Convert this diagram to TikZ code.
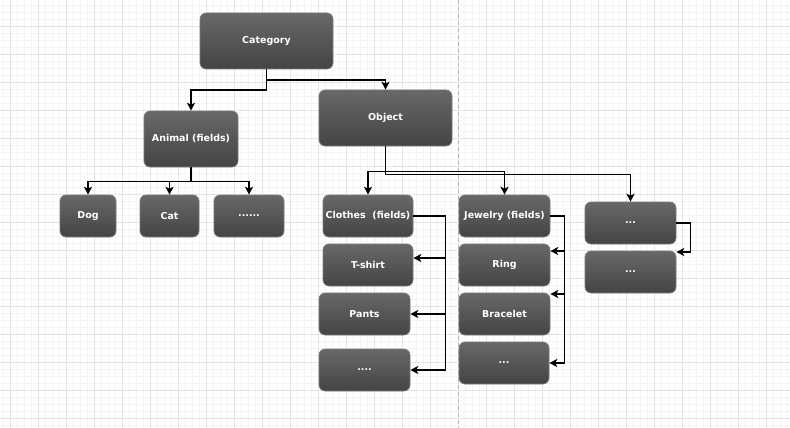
\documentclass[tikz,border=0pt]{standalone}
\usepackage{fontspec}
\setmainfont{DejaVu Sans}
\usetikzlibrary{arrows.meta}
\definecolor{gridmaj}{HTML}{E4E4E4}
\definecolor{gridmin}{HTML}{F4F4F4}
\definecolor{boxtop}{HTML}{686868}
\definecolor{boxbot}{HTML}{444444}
\definecolor{boxline}{HTML}{7C7C7C}
\tikzset{
  box/.style={rectangle, rounded corners=6pt, draw=boxline, line width=0.6pt,
    top color=boxtop, bottom color=boxbot, inner sep=0pt,
    text=white, font=\fontsize{9.5}{11}\selectfont\bfseries},
  arr/.style={line width=1.6pt, -{Stealth[length=8pt,width=8pt,inset=2pt]}},
  wire/.style={line width=1.6pt}
}
\begin{document}
\begin{tikzpicture}[x=1pt,y=-1pt]
\useasboundingbox (0,0) rectangle (790,428);
\fill[white] (0,0) rectangle (790,428);
% minor grid
\foreach \i in {0,...,113} {\draw[gridmin,line width=0.6pt] ({3+7*\i},0) -- ({3+7*\i},428);}
\foreach \i in {0,...,61} {\draw[gridmin,line width=0.6pt] (0,{5+7*\i}) -- (790,{5+7*\i});}
% major grid
\foreach \i in {0,...,28} {\draw[gridmaj,line width=0.9pt] ({10+28*\i},0) -- ({10+28*\i},428);}
\foreach \i in {0,...,15} {\draw[gridmaj,line width=0.9pt] (0,{-2+28*\i}) -- (790,{-2+28*\i});}
% dashed separator
\draw[gray!60,line width=0.7pt,dash pattern=on 4pt off 3pt] (458,0) -- (458,428);

% nodes
\node[box,minimum width=133pt,minimum height=56pt] (cat) at (266.5,41) {Category};
\node[box,minimum width=133pt,minimum height=56pt] (obj) at (385.5,118) {Object};
\node[box,minimum width=94pt,minimum height=56pt] (ani) at (191,139) {Animal (fields)};
\node[box,minimum width=56pt,minimum height=42pt] (dog) at (88,216) {Dog};
\node[box,minimum width=59pt,minimum height=42pt] (catn) at (169.5,216) {Cat};
\node[box,minimum width=70pt,minimum height=42pt] (dotsa) at (249,216) {......};
\node[box,minimum width=90pt,minimum height=42pt] (clo) at (368,216) {Clothes\ \ (fields)};
\node[box,minimum width=90pt,minimum height=42pt] (tsh) at (368,265) {T-shirt};
\node[box,minimum width=91pt,minimum height=42pt] (pan) at (364.5,314) {Pants};
\node[box,minimum width=91pt,minimum height=42pt] (dotsb) at (364.5,370) {....};
\node[box,minimum width=91pt,minimum height=42pt] (jew) at (504.5,216) {Jewelry (fields)};
\node[box,minimum width=91pt,minimum height=42pt] (ring) at (504.5,265) {Ring};
\node[box,minimum width=91pt,minimum height=42pt] (brac) at (504.5,314) {Bracelet};
\node[box,minimum width=90pt,minimum height=42pt] (dotsc) at (504,363) {...};
\node[box,minimum width=91pt,minimum height=42pt] (ra) at (630.5,223) {...};
\node[box,minimum width=91pt,minimum height=42pt] (rb) at (630.5,272) {...};

% connectors
\draw[arr] (cat.south) -- ++(0,11) -| (obj.north);
\draw[arr] (cat.south) -- ++(0,21) -| (ani.north);
\draw[arr] (ani.south) -- ++(0,14) -| (dog.north);
\draw[arr] (ani.south) -- ++(0,14) -| (catn.north);
\draw[arr] (ani.south) -- ++(0,14) -| (dotsa.north);
\draw[arr] (obj.south) -- ++(0,25) -| (clo.north);
\draw[arr] (obj.south) -- ++(0,25) -| (jew.north);
\draw[arr] (obj.south) -- ++(0,28) -| (ra.north);
\draw[arr] (clo.east) -- ++(32,0) |- ([yshift=7pt]tsh.east);
\draw[arr] (clo.east) -- ++(32,0) |- (pan.east);
\draw[arr] (clo.east) -- ++(32,0) |- (dotsb.east);
\draw[arr] (jew.east) -- ++(14,0) |- ([yshift=14pt]ring.east);
\draw[arr] (jew.east) -- ++(14,0) |- ([yshift=20pt]brac.east);
\draw[arr] (jew.east) -- ++(14,0) |- (dotsc.east);
\draw[arr] (ra.east) -- ++(14,0) |- ([yshift=20pt]rb.east);
\end{tikzpicture}
\end{document}
